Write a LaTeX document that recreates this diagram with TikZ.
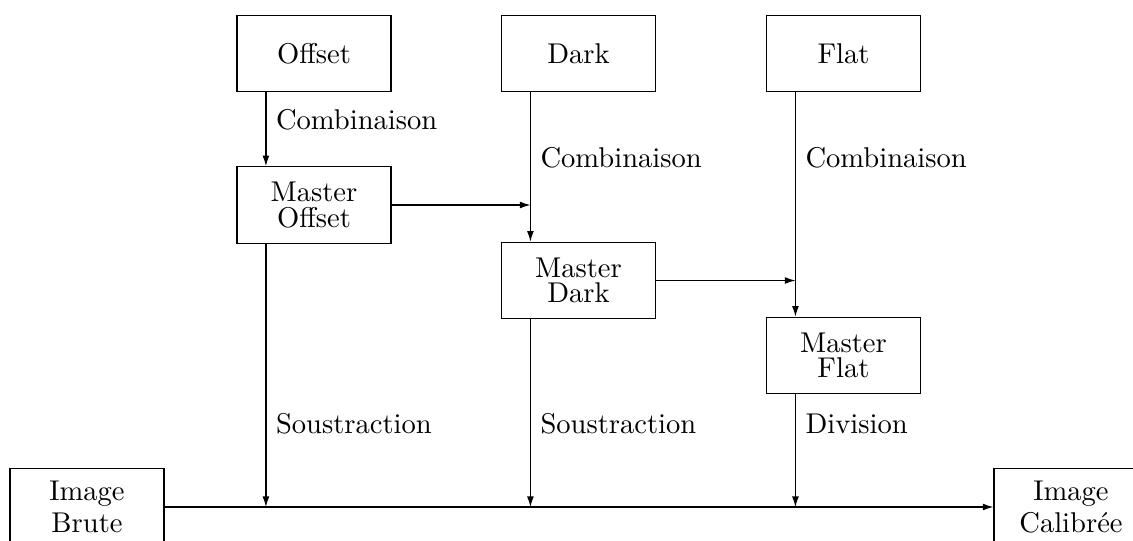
\documentclass[tikz,border=0pt]{standalone}
\usetikzlibrary{arrows.meta,calc}
\begin{document}
\begin{tikzpicture}[x=0.35pt,y=-0.35pt,
  box/.style={draw, minimum width=53.9pt, minimum height=26.8pt, inner sep=0pt, align=center},
  arr/.style={-{Latex[length=3.7pt,width=2.4pt]}},
  lbl/.style={anchor=base west}]
\useasboundingbox (0,0) rectangle (1133,540);
\clip (0,0) rectangle (1133,540);
\node[box] (offset) at (314,53.5) {Offset};
\node[box] (dark) at (578.5,53.5) {Dark};
\node[box] (flat) at (843.5,53.5) {Flat};
\node[box] (moffset) at (314,205) {Master\\[-3pt]Offset};
\node[box] (mdark) at (578.5,280.5) {Master\\[-3pt]Dark};
\node[box] (mflat) at (843.5,355.5) {Master\\[-3pt]Flat};
\node[box] (brute) at (87,507) {Image\\[-0.6pt]Brute};
\node[box] (calib) at (1071,507) {Image\\[-0.6pt]Calibrée};
% column coordinates
\coordinate (cO) at ($(offset.south west)+(29.5,0)$);
\coordinate (cD) at ($(dark.south west)+(29.5,0)$);
\coordinate (cF) at ($(flat.south west)+(29.5,0)$);
\coordinate (yA) at (0,129);
\coordinate (yB) at (0,167);
\coordinate (yC) at (0,433);
% connectors
\draw[arr] (cO) -- (cO |- moffset.north);
\draw[arr] (cO |- moffset.south) -- (cO |- brute.east);
\draw[arr] (cD) -- (cD |- mdark.north);
\draw[arr] (moffset.east) -- (moffset.east -| cD);
\draw[arr] (cD |- mdark.south) -- (cD |- brute.east);
\draw[arr] (cF) -- (cF |- mflat.north);
\draw[arr] (mdark.east) -- (mdark.east -| cF);
\draw[arr] (cF |- mflat.south) -- (cF |- brute.east);
\draw[arr] (brute.east) -- (calib.west);
% labels
\node[lbl] (lcO) at (cO |- yA) {Combinaison};
\node[lbl] (lcD) at (cD |- yB) {Combinaison};
\node[lbl] (lcF) at (cF |- yB) {Combinaison};
\node[lbl] (lsO) at (cO |- yC) {Soustraction};
\node[lbl] (lsD) at (cD |- yC) {Soustraction};
\node[lbl] (ldF) at (cF |- yC) {Division};
\end{tikzpicture}
\end{document}
